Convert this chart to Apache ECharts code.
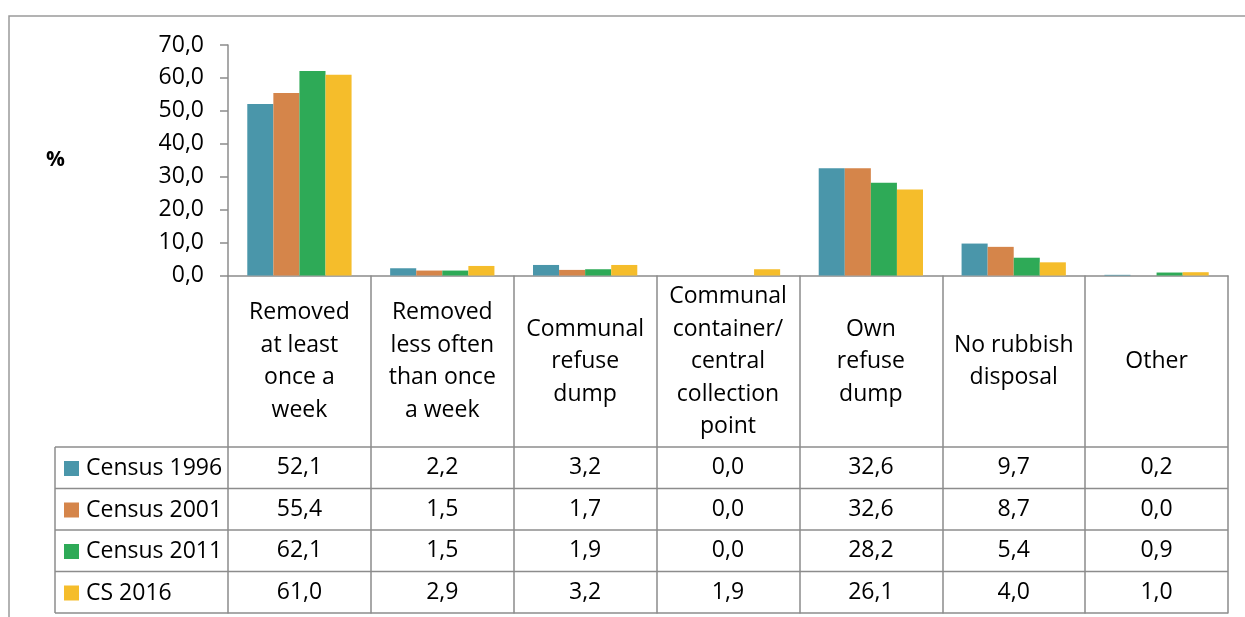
<!DOCTYPE html>
<html>
<head>
<meta charset="utf-8">
<script src="https://cdn.jsdelivr.net/npm/echarts@6/dist/echarts.min.js"></script>
<style>
  html, body { margin: 0; padding: 0; background: #fff; }
  #chart { width: 1245px; height: 617px; }
</style>
</head>
<body>
<div id="chart"></div>
<script>
// categories (line breaks as in the source table)
const categories = [
  'Removed\nat least\nonce a\nweek',
  'Removed\nless often\nthan once\na week',
  'Communal\nrefuse\ndump',
  'Communal\ncontainer/\ncentral\ncollection\npoint',
  'Own\nrefuse\ndump',
  'No rubbish\ndisposal',
  'Other'
];
const seriesNames = ['Census 1996', 'Census 2001', 'Census 2011', 'CS 2016'];
const census1996 = [52.1, 2.2, 3.2, 0.0, 32.6, 9.7, 0.2];
const census2001 = [55.4, 1.5, 1.7, 0.0, 32.6, 8.7, 0.0];
const census2011 = [62.1, 1.5, 1.9, 0.0, 28.2, 5.4, 0.9];
const cs2016 = [61.0, 2.9, 3.2, 1.9, 26.1, 4.0, 1.0];
const yTicks = [0, 10, 20, 30, 40, 50, 60, 70];

const colors = ['#4a96aa', '#d5854a', '#2eaa57', '#f5bd2b'];
const lineColor = '#8c8c8c';
const font = '"Open Sans", "Noto Sans", sans-serif';
const fmt = v => v.toFixed(1).replace('.', ',');

// table layout (below the axis)
const tableLeft = 55;
const tableTop = 447;
const rowH = 41.5;

const chart = echarts.init(document.getElementById('chart'));
const allData = [census1996, census2001, census2011, cs2016];

const option = {
  animation: false,
  textStyle: { fontFamily: font, color: '#000' },
  grid: { left: 228, right: 17, top: 45, bottom: 341.5 },
  legend: {
    orient: 'vertical',
    left: 64,
    top: 457,
    padding: 0,
    itemWidth: 15,
    itemHeight: 15,
    itemGap: 18.5,
    icon: 'rect',
    selectedMode: false,
    data: seriesNames,
    textStyle: { fontFamily: font, fontSize: 23, color: '#000', lineHeight: 23, padding: [0, 0, 0, 2] }
  },
  xAxis: {
    type: 'category',
    data: categories,
    axisLine: { lineStyle: { color: lineColor, width: 1.5 } },
    axisTick: { show: true, length: 338, lineStyle: { color: lineColor, width: 1.5 } },
    axisLabel: {
      interval: 0,
      margin: 86,
      fontFamily: font,
      fontSize: 23,
      lineHeight: 32.5,
      color: '#000',
      verticalAlign: 'middle',
      align: 'center'
    }
  },
  yAxis: {
    type: 'value',
    min: yTicks[0],
    max: yTicks[yTicks.length - 1],
    interval: 10,
    name: '%',
    nameLocation: 'middle',
    nameRotate: 0,
    nameGap: 163,
    nameTextStyle: { fontFamily: font, fontSize: 21, fontWeight: 'bold', color: '#000', padding: [2, 0, 0, 0] },
    axisLine: { show: true, lineStyle: { color: lineColor, width: 1.5 } },
    axisTick: { show: true, length: 8, lineStyle: { color: lineColor, width: 1.5 } },
    splitLine: { show: false },
    axisLabel: {
      margin: 24,
      fontFamily: font,
      fontSize: 23,
      color: '#000',
      formatter: v => fmt(v)
    }
  },
  series: seriesNames.map((name, i) => ({
    name: name,
    type: 'bar',
    data: allData[i],
    barGap: 0,
    barCategoryGap: '27%',
    itemStyle: { color: colors[i] }
  }))
};

chart.setOption(option);

// data table: grid lines and values placed on the category scale
const right = chart.convertToPixel({ xAxisIndex: 0 }, categories[0]) - 71.5 + 1000;
const elements = [
  // outer chart frame
  {
    type: 'rect',
    shape: { x: 9, y: 16, width: 1300, height: 700 },
    style: { fill: null, stroke: '#9a9a9a', lineWidth: 1.5 }
  },
  {
    type: 'line',
    shape: { x1: tableLeft, y1: tableTop, x2: tableLeft, y2: tableTop + rowH * 4 },
    style: { stroke: lineColor, lineWidth: 1.5 }
  }
];
for (let r = 0; r <= 4; r++) {
  elements.push({
    type: 'line',
    shape: { x1: tableLeft, y1: tableTop + rowH * r, x2: right, y2: tableTop + rowH * r },
    style: { stroke: lineColor, lineWidth: 1.5 }
  });
}
allData.forEach((vals, r) => {
  vals.forEach((v, c) => {
    const x = chart.convertToPixel({ xAxisIndex: 0 }, categories[c]);
    elements.push({
      type: 'text',
      x: x,
      y: tableTop + rowH * r + rowH / 2,
      style: {
        text: fmt(v),
        font: '23px ' + font,
        fill: '#000',
        align: 'center',
        verticalAlign: 'middle'
      }
    });
  });
});
chart.setOption({ graphic: { elements: elements } });

window.addEventListener('resize', () => {
  chart.resize();
});
</script>
</body>
</html>
